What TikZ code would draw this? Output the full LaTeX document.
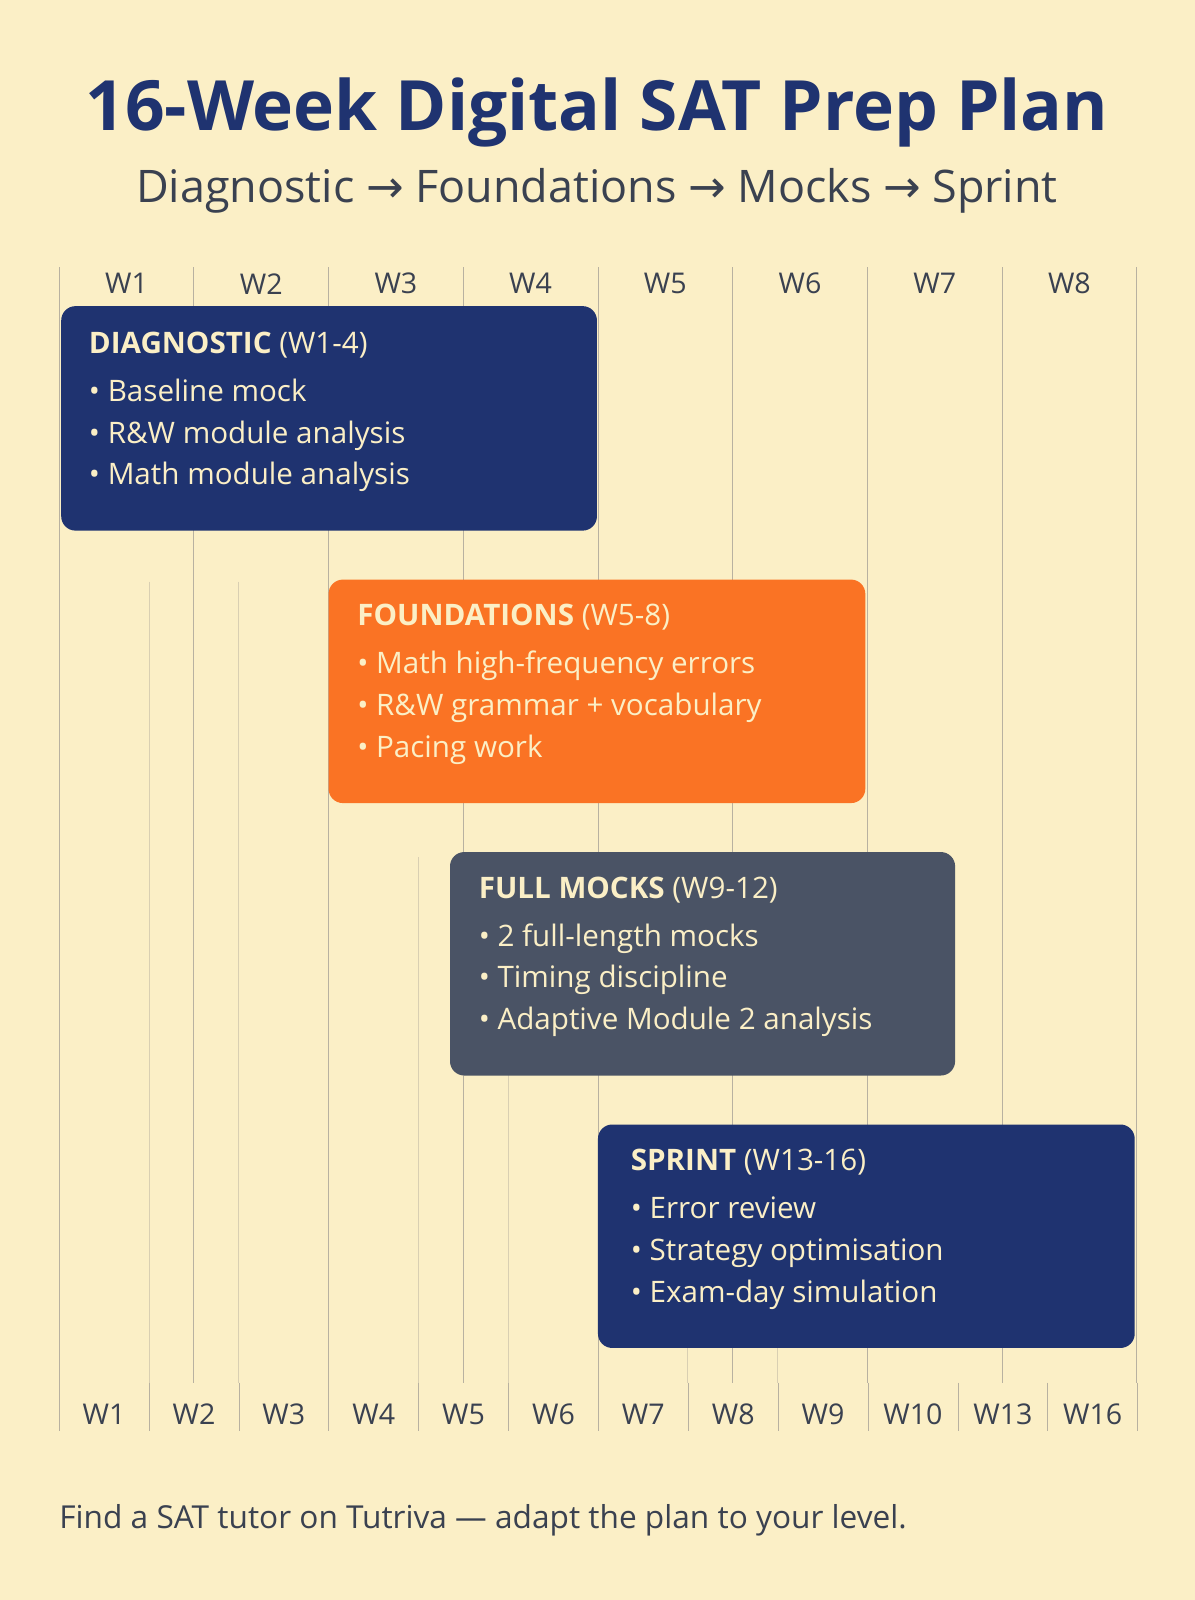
\documentclass[tikz,border=0pt]{standalone}
\usepackage{fontspec}
\setmainfont{Open Sans}
\newfontfamily\arrowfont{DejaVu Sans}
\definecolor{cream}{HTML}{FBEFC6}
\definecolor{navy}{HTML}{1F3370}
\definecolor{orangebox}{HTML}{FA7324}
\definecolor{slatebox}{HTML}{4A5365}
\definecolor{inktext}{HTML}{3A4150}
\definecolor{gridline}{HTML}{B8B1A0}
\newcommand{\ar}{{\arrowfont\char"2192}}
\begin{document}
\begin{tikzpicture}[x=1pt,y=-1pt,
  phase/.style={rounded corners=14pt,inner sep=0pt},
  phasetext/.style={anchor=north west,align=left,text=cream,font=\fontsize{29}{41}\selectfont,inner sep=0pt},
  weeklbl/.style={text=inktext,font=\fontsize{28}{30}\selectfont},
  grid/.style={draw=gridline,line width=0.8pt}]
\fill[cream] (0,0) rectangle (1171,1568);
\useasboundingbox (0,0) rectangle (1171,1568);

% title
\node (title) at (585,110) {\fontsize{68}{70}\selectfont\bfseries\color{navy}16-Week Digital SAT Prep Plan};
\node (subtitle) at (585,187) {\fontsize{44}{46}\selectfont\color{inktext}Diagnostic \ar{} Foundations \ar{} Mocks \ar{} Sprint};

% grid
\foreach \i in {0,...,8}
  \draw[grid] (58+132*\i,262) -- (58+132*\i,1355);
\foreach \i in {0,...,12}
  \draw[grid] (58+88.08*\i,1355) -- (58+88.08*\i,1402);
\foreach \x in {146,234} \draw[grid,draw opacity=0.5] (\x,570) -- (\x,1355);
\foreach \x in {410,498} \draw[grid,draw opacity=0.5] (\x,840) -- (\x,1355);
\foreach \x in {674,762} \draw[grid,draw opacity=0.5] (\x,1320) -- (\x,1355);
\foreach \i in {1,...,8}
  \node[weeklbl] (top\i) at (124+132*\i-132,278) {W\i};
\foreach \w [count=\i from 0] in {1,2,3,4,5,6,7,8,9,10,13,16}
  \node[weeklbl] (bot\i) at (102+88.08*\i,1386) {W\w};

% phases
\fill[phase,navy] (60,300) rectangle (585,520);
\node[phasetext] (diag) at (87,325) {\textbf{DIAGNOSTIC} (W1-4)\\[6pt]• Baseline mock\\• R\&W module analysis\\• Math module analysis};
\fill[phase,orangebox] (322,568) rectangle (848,787);
\node[phasetext] (found) at (350,592) {\textbf{FOUNDATIONS} (W5-8)\\[6pt]• Math high-frequency errors\\• R\&W grammar + vocabulary\\• Pacing work};
\fill[phase,slatebox] (441,835) rectangle (936,1054);
\node[phasetext] (mocks) at (469,859) {\textbf{FULL MOCKS} (W9-12)\\[6pt]• 2 full-length mocks\\• Timing discipline\\• Adaptive Module 2 analysis};
\fill[phase,navy] (586,1102) rectangle (1112,1321);
\node[phasetext] (sprint) at (618,1126) {\textbf{SPRINT} (W13-16)\\[6pt]• Error review\\• Strategy optimisation\\• Exam-day simulation};

% footer
\node[anchor=west,text=inktext,font=\fontsize{31}{33}\selectfont,inner sep=0pt] (footer) at (58,1490) {Find a SAT tutor on Tutriva — adapt the plan to your level.};
\end{tikzpicture}
\end{document}
